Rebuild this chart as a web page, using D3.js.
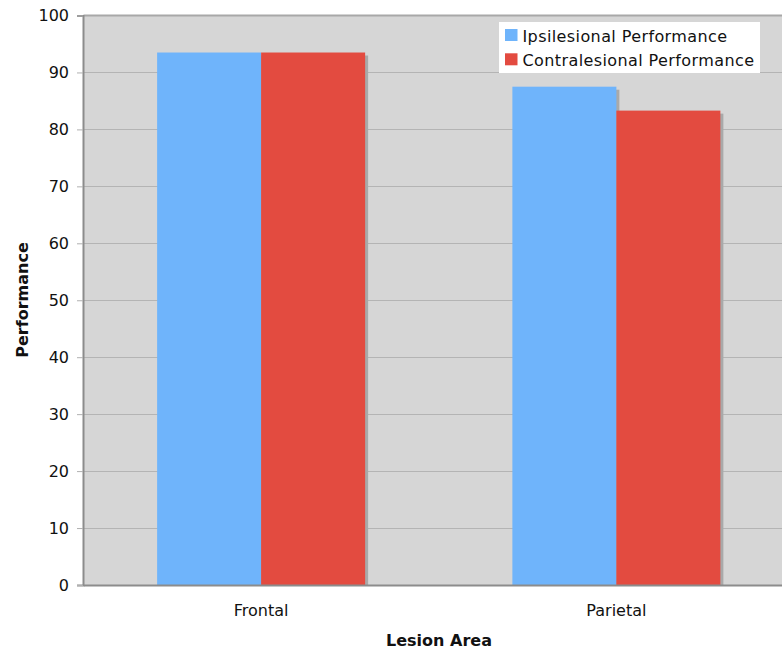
<!DOCTYPE html>
<html>
<head>
<meta charset="utf-8">
<script src="https://cdn.jsdelivr.net/npm/d3@7/dist/d3.min.js"></script>
<style>
  html, body { margin: 0; padding: 0; background: #fff; }
  svg { display: block; font-family: "DejaVu Sans", Verdana, sans-serif; }
</style>
</head>
<body>
<svg id="chart" width="782" height="652"></svg>
<script>
// Lesion area categories and mean performance per hemifield
const categories = ["Frontal", "Parietal"];
const seriesNames = ["Ipsilesional Performance", "Contralesional Performance"];
const ipsilesional = [93.5, 87.5];
const contralesional = [93.5, 83.3];
const yTicks = [0, 10, 20, 30, 40, 50, 60, 70, 80, 90, 100];
const colors = ["#6fb4fb", "#e34b40"];

const svg = d3.select("#chart");
const margin = { left: 83.5, top: 15.5, right: -12, bottom: 67 };
const W = 782, H = 652;
const x0 = margin.left, x1 = W - margin.right;
const y0 = H - margin.bottom, y1 = margin.top;

const x = d3.scaleBand().domain(categories).range([x0, x1]);
const inner = d3.scaleBand().domain(seriesNames).range([-104, 104]);
const y = d3.scaleLinear().domain([0, 100]).range([y0, y1]);

// plot background
svg.append("rect")
  .attr("x", x0).attr("y", y1)
  .attr("width", x1 - x0).attr("height", y0 - y1)
  .attr("fill", "#d6d6d6");

// horizontal gridlines
svg.append("g")
  .selectAll("line")
  .data(yTicks.filter(t => t > 0 && t < 100))
  .join("line")
  .attr("x1", x0).attr("x2", x1)
  .attr("y1", d => Math.round(y(d)) + 0.5).attr("y2", d => Math.round(y(d)) + 0.5)
  .attr("stroke", "#b4b4b4").attr("stroke-width", 1);

// top border
svg.append("line")
  .attr("x1", x0).attr("x2", x1)
  .attr("y1", y1).attr("y2", y1)
  .attr("stroke", "#a8a8a8").attr("stroke-width", 2);

const rows = categories.map((c, i) => ({ cat: c, vals: [ipsilesional[i], contralesional[i]] }));

// drop shadows behind bars
const shadowG = svg.append("g");
rows.forEach(r => {
  r.vals.forEach((v, j) => {
    const bx = x(r.cat) + x.bandwidth() / 2 + inner(seriesNames[j]);
    shadowG.append("rect")
      .attr("x", bx + 3).attr("y", y(v) + 3)
      .attr("width", inner.bandwidth()).attr("height", y0 - y(v) - 3)
      .attr("fill", "#a9a9a9");
  });
});

// bars
const barG = svg.append("g");
rows.forEach(r => {
  r.vals.forEach((v, j) => {
    const bx = x(r.cat) + x.bandwidth() / 2 + inner(seriesNames[j]);
    barG.append("rect")
      .attr("x", bx).attr("y", y(v))
      .attr("width", inner.bandwidth()).attr("height", y0 - y(v))
      .attr("fill", colors[j]);
  });
});

// y axis
const yAxis = d3.axisLeft(y).tickValues(yTicks).tickSize(6).tickPadding(8).tickFormat(d3.format("d"));
const gy = svg.append("g").attr("transform", `translate(${x0 - 0.5},0)`).call(yAxis);
gy.select(".domain").attr("stroke", "#8c8c8c").attr("stroke-width", 2);
gy.selectAll(".tick line").attr("stroke", "#b0b0b0");
gy.selectAll(".tick text").attr("font-size", 16).attr("fill", "#111")
  .attr("font-family", "DejaVu Sans, Verdana, sans-serif");

// x axis
const xAxis = d3.axisBottom(x).tickSize(0).tickPadding(20);
const gx = svg.append("g").attr("transform", `translate(0,${y0})`).call(xAxis);
gx.select(".domain").attr("stroke", "#8c8c8c").attr("stroke-width", 2);
gx.selectAll(".tick text").attr("font-size", 16).attr("fill", "#111")
  .attr("font-family", "DejaVu Sans, Verdana, sans-serif");

// axis titles
svg.append("text")
  .attr("x", 439).attr("y", 646)
  .attr("text-anchor", "middle")
  .attr("font-size", 16).attr("font-weight", "bold").attr("fill", "#111")
  .text("Lesion Area");

svg.append("text")
  .attr("transform", "translate(27.5,300) rotate(-90)")
  .attr("text-anchor", "middle")
  .attr("font-size", 16).attr("font-weight", "bold").attr("fill", "#111")
  .text("Performance");

// legend
const lg = svg.append("g").attr("transform", "translate(499,22)");
lg.append("rect").attr("width", 261).attr("height", 51).attr("fill", "#fff");
seriesNames.forEach((s, i) => {
  const row = lg.append("g").attr("transform", `translate(6,${7 + i * 24.3})`);
  row.append("rect").attr("width", 12.5).attr("height", 12).attr("fill", colors[i]);
  row.append("text")
    .attr("x", 17.5).attr("y", 12.5)
    .attr("font-size", 16).attr("letter-spacing", 0.4).attr("fill", "#111")
    .text(s);
});
</script>
</body>
</html>
